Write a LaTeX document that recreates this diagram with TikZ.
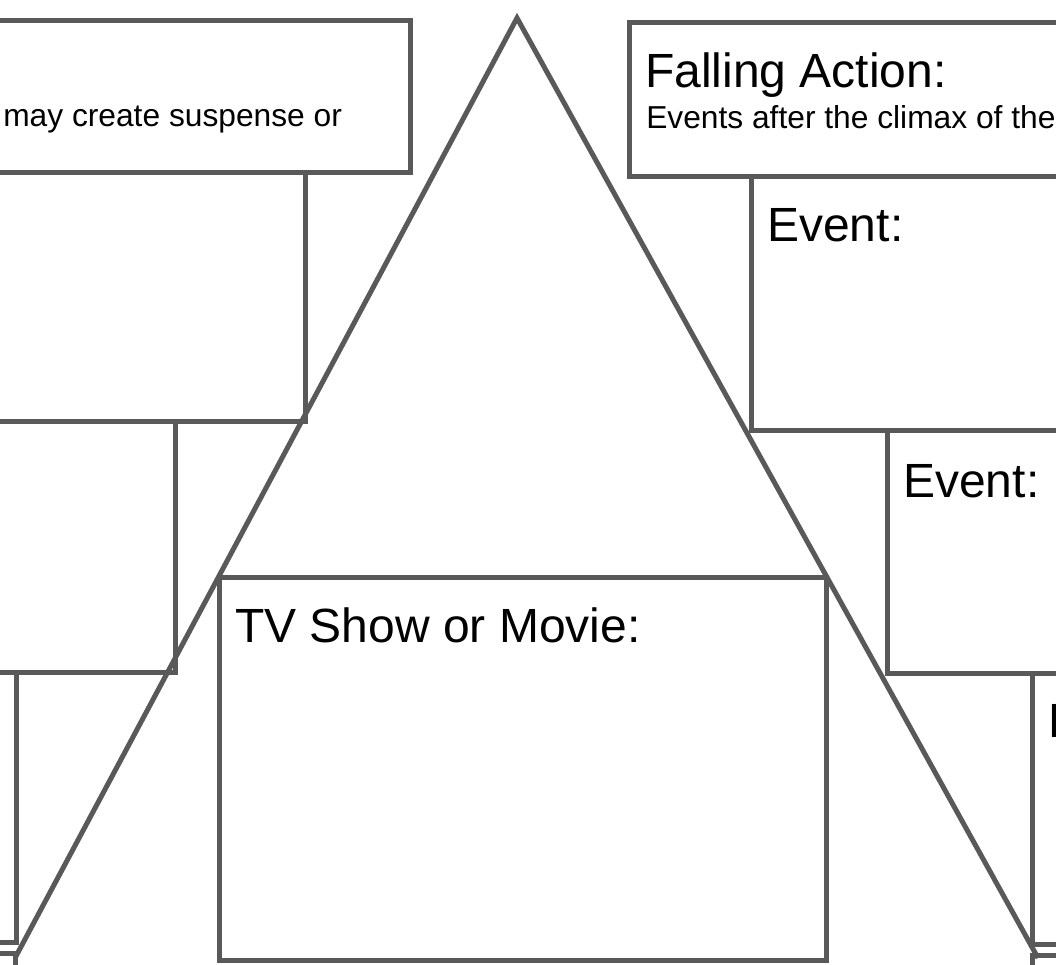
\documentclass[tikz,border=0pt]{standalone}
\usepackage{fontspec}
\setmainfont{Liberation Sans}
\newlength{\du}
\setlength{\du}{0.75pt}
\definecolor{dialinecolor}{rgb}{0.350000, 0.350000, 0.350000}
\tikzset{
  framebox/.style={draw=dialinecolor, line width=5\du},
  plotline/.style={draw=dialinecolor, line width=5\du, line join=miter},
  bigtext/.style={anchor=base west, inner sep=0pt, font=\fontsize{36}{42}\selectfont},
  smalltext/.style={anchor=base west, inner sep=0pt, font=\fontsize{23.8}{28}\selectfont}
}
\begin{document}
\begin{tikzpicture}
\pgftransformxscale{1.000000}
\pgftransformyscale{-1.000000}
\useasboundingbox (0\du,0\du) rectangle (1056\du,964\du);
\clip (0\du,0\du) rectangle (1056\du,964\du);
% left side boxes
\draw[framebox] (-20\du,20\du) rectangle (410\du,172\du);
\draw[framebox] (-20\du,172\du) rectangle (305\du,421\du);
\draw[framebox] (-20\du,421\du) rectangle (175\du,672\du);
\draw[framebox] (-20\du,672\du) rectangle (16\du,942\du);
\draw[framebox] (-20\du,953\du) rectangle (15\du,990\du);
% right side boxes
\draw[framebox] (629\du,22\du) rectangle (1080\du,176\du);
\draw[framebox] (751\du,176\du) rectangle (1080\du,430\du);
\draw[framebox] (887\du,430\du) rectangle (1080\du,673\du);
\draw[framebox] (1032\du,673\du) rectangle (1080\du,944\du);
\draw[framebox] (1032\du,955\du) rectangle (1080\du,990\du);
% middle box
\draw[framebox] (219\du,577\du) rectangle (826\du,960\du);
% the plot line
\coordinate (baseleft) at (15\du,958\du);
\coordinate (apex) at (517\du,18\du);
\coordinate (baseright) at (1038\du,958\du);
\draw[plotline] (baseleft)--(apex)--(baseright);
% texts
\node[smalltext] (risingnote) at (3\du,126\du){may create suspense or};
\node[bigtext] (fallingtitle) at (645\du,87\du){Falling Action:};
\node[smalltext] (fallingnote) at (646\du,128\du){Events after the climax of the};
\node[bigtext] (eventone) at (767\du,241\du){Event:};
\node[bigtext] (eventtwo) at (903\du,497\du){Event:};
\node[bigtext] (eventthree) at (1048\du,737\du){Event:};
\node[bigtext] (tvtitle) at (235\du,642\du){TV Show or Movie:};
\end{tikzpicture}
\end{document}
